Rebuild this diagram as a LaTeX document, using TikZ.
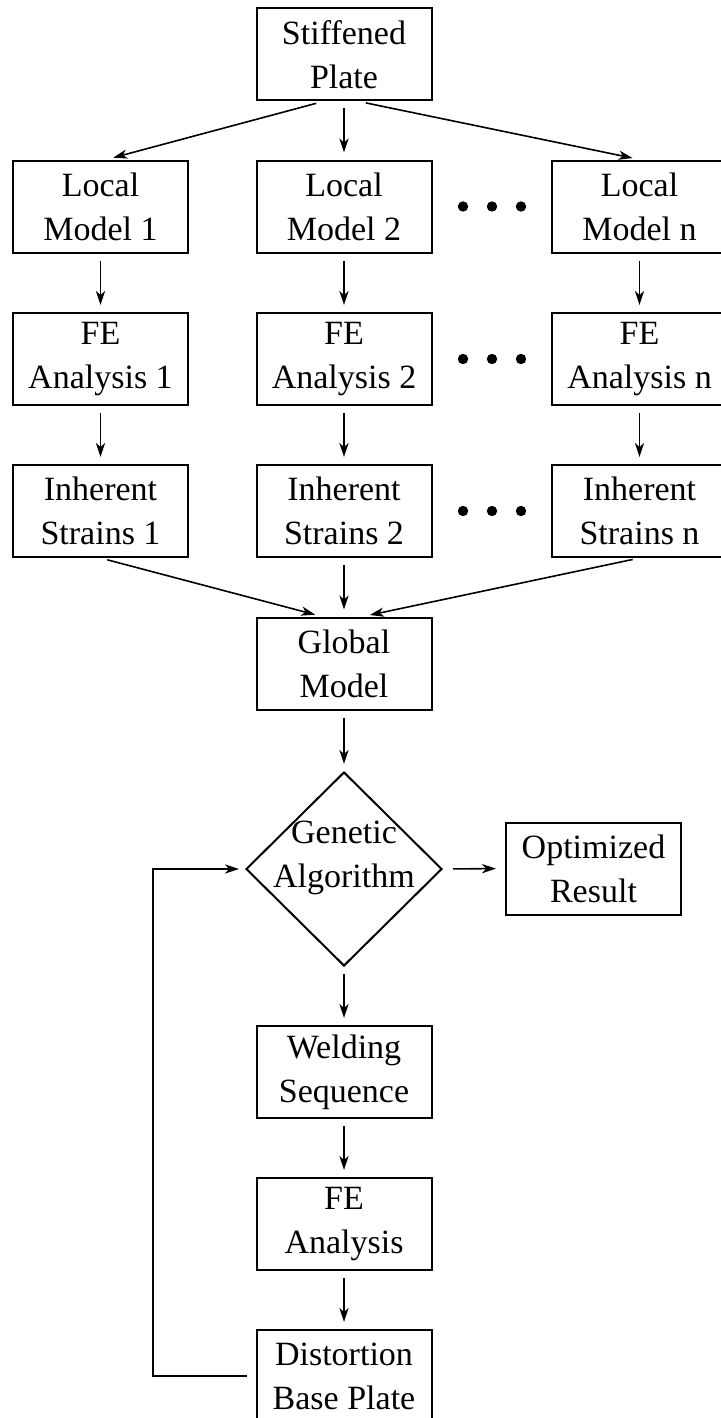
\documentclass[tikz,border=0pt]{standalone}
\usepackage{fontspec}
\setmainfont{Liberation Serif}
\usetikzlibrary{shapes.geometric,arrows.meta}
\begin{document}
\begin{tikzpicture}[x=0.5pt, y=-0.5pt,
	block/.style={draw, line width=1pt, minimum width=87.5pt, minimum height=46pt, inner sep=0pt, align=center, font=\fontsize{17}{22}\selectfont},
	decision/.style={draw, diamond, line width=1pt, minimum width=98pt, minimum height=97pt, inner sep=0pt},
	arrow/.style={line width=0.8pt, ->, >={Stealth[length=7pt, width=4.6pt, inset=2pt]}, shorten <=3.5pt, shorten >=3.5pt}]
	\useasboundingbox (0,0) rectangle (720,1418);
	\node[block] (sp) at (344,54.5) {Stiffened\\Plate};
	\node[block] (lm1) at (100.5,206.5) {Local\\Model 1};
	\node[block] (lm2) at (344,206.5) {Local\\Model 2};
	\node[block] (lmn) at (639.5,206.5) {Local\\Model n};
	\node[block] (fe1) at (100.5,359) {FE\\Analysis 1};
	\node[block] (fe2) at (344,359) {FE\\Analysis 2};
	\node[block] (fen) at (639.5,359) {FE\\Analysis n};
	\node[block] (is1) at (100.5,511) {Inherent\\Strains 1};
	\node[block] (is2) at (344,511) {Inherent\\Strains 2};
	\node[block] (isn) at (639.5,511) {Inherent\\Strains n};
	\node[block] (gm) at (344,663.5) {Global\\Model};
	\node[decision] (ga) at (344,869) {};
	\node[align=center, inner sep=0pt, font=\fontsize{17}{22}\selectfont] (gatxt) at (344,858) {Genetic\\Algorithm};
	\node[block] (or) at (593.5,868.5) {Optimized\\Result};
	\node[block] (ws) at (344,1072) {Welding\\Sequence};
	\node[block] (fa) at (344,1224) {FE\\Analysis};
	\node[block] (dbp) at (344,1376) {Distortion\\Base Plate};
	\coordinate (fb) at (153,869);
	\foreach \y in {206.5,359,511}
		\foreach \x in {463,492,521}
			\fill (\x,\y) circle (2.6pt);
	\draw[arrow]([xshift=-10.5pt]sp.south) -- ([xshift=3pt]lm1.north);
	\draw[arrow](sp.south) -- (lm2.north);
	\draw[arrow]([xshift=7.5pt]sp.south) -- (lmn.north);
	\foreach \c in {1,2,n} {
		\draw[arrow](lm\c.south) -- (fe\c.north);
		\draw[arrow](fe\c.south) -- (is\c.north);
	}
	\draw[arrow](is1.south) -- ([xshift=-11pt]gm.north);
	\draw[arrow](is2.south) -- (gm.north);
	\draw[arrow](isn.south) -- ([xshift=9.5pt]gm.north);
	\draw[arrow](gm.south) -- (ga.north);
	\draw[arrow, shorten <=5pt, shorten >=4.5pt](ga.east) -- (or.west);
	\draw[arrow](ga.south) -- (ws.north);
	\draw[arrow](ws.south) -- (fa.north);
	\draw[arrow](fa.south) -- (dbp.north);
	\draw[arrow, shorten <=0pt, shorten >=3pt]([xshift=-4.5pt]dbp.west) -| (fb) -- (ga.west);
\end{tikzpicture}
\end{document}
